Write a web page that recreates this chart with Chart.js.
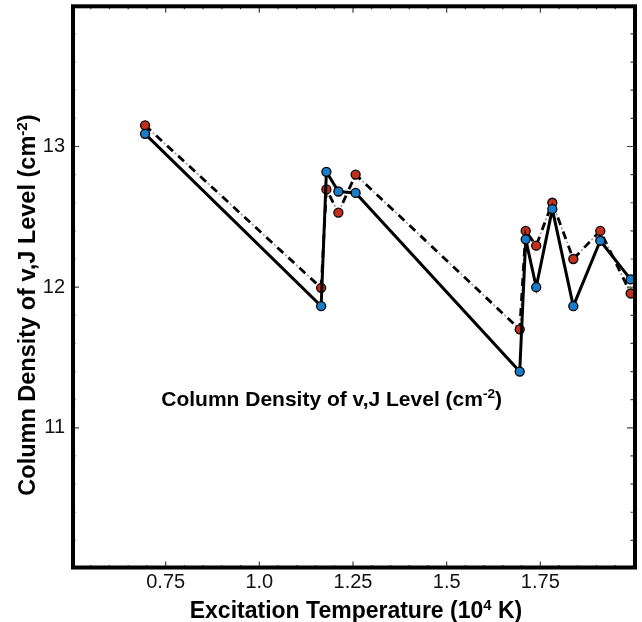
<!DOCTYPE html>
<html><head><meta charset="utf-8">
<script src="https://cdn.jsdelivr.net/npm/chart.js@4.4.0/dist/chart.umd.min.js"></script>
<style>html,body{margin:0;padding:0;background:#fff;}canvas{display:block;}</style>
</head><body>
<canvas id="c" width="642" height="622"></canvas>
<script>
// ---- data ----
const temperatures = [0.695, 1.165, 1.179, 1.211, 1.257, 1.695, 1.711, 1.739, 1.782, 1.838, 1.910, 1.991];
const blueDensity  = [13.09, 11.865, 12.82, 12.68, 12.67, 11.40, 12.34, 12.00, 12.555, 11.865, 12.33, 12.055];
const redDensity   = [13.15, 11.995, 12.695, 12.53, 12.80, 11.70, 12.40, 12.295, 12.60, 12.20, 12.40, 11.955];
const xTickValues = [0.75, 1.0, 1.25, 1.5, 1.75];
const xTickLabels = ['0.75', '1.0', '1.25', '1.5', '1.75'];
const yTickValues = [11, 12, 13];
const yTickLabels = ['11', '12', '13'];
const yTitle = [{t: 'Column Density of v,J Level (cm'}, {t: '-2', sup: true}, {t: ')'}];
const xTitle = [{t: 'Excitation Temperature (10'}, {t: '4', sup: true}, {t: ' K)'}];
const noteText = [{t: 'Column Density of v,J Level (cm'}, {t: '-2', sup: true}, {t: ')'}];

const FONT = '"Liberation Sans", Arial, Helvetica, sans-serif';

function pts(ys) { return temperatures.map((x, i) => ({x: x, y: ys[i]})); }

function drawRich(ctx, segs, size, cx, cy, rot) {
  const supScale = 0.65;
  let w = 0;
  segs.forEach(s => {
    ctx.font = 'bold ' + (s.sup ? size * supScale : size) + 'px ' + FONT;
    s.w = ctx.measureText(s.t).width;
    w += s.w;
  });
  ctx.save();
  ctx.translate(cx, cy);
  if (rot) ctx.rotate(rot);
  ctx.fillStyle = '#000';
  ctx.textBaseline = 'alphabetic';
  ctx.textAlign = 'left';
  let x = -w / 2;
  const base = 0.358 * size;
  segs.forEach(s => {
    ctx.font = 'bold ' + (s.sup ? size * supScale : size) + 'px ' + FONT;
    ctx.fillText(s.t, x, s.sup ? base - 0.36 * size : base);
    x += s.w;
  });
  ctx.restore();
}

const framePlugin = {
  id: 'frameTicks',
  afterDatasetsDraw(chart) {
    const ctx = chart.ctx;
    const a = chart.chartArea;
    const xs = chart.scales.x, ys = chart.scales.y;
    ctx.save();
    ctx.strokeStyle = '#444';
    ctx.lineWidth = 1.2;
    ctx.beginPath();
    for (let k = 0; k <= 30; k++) {
      const v = xs.min + k * 0.05;
      const px = xs.getPixelForValue(v);
      const major = xTickValues.some(t => Math.abs(t - v) < 1e-6);
      const len = major ? 7 : 3.5;
      ctx.moveTo(px, a.bottom); ctx.lineTo(px, a.bottom - len);
      ctx.moveTo(px, a.top); ctx.lineTo(px, a.top + len);
    }
    for (let k = 0; k <= 20; k++) {
      const v = ys.min + k * 0.2;
      const py = ys.getPixelForValue(v);
      const major = yTickValues.some(t => Math.abs(t - v) < 1e-6);
      const len = major ? 7 : 3.5;
      ctx.moveTo(a.left, py); ctx.lineTo(a.left + len, py);
      ctx.moveTo(a.right, py); ctx.lineTo(a.right - len, py);
    }
    ctx.stroke();
    ctx.strokeStyle = '#000';
    ctx.lineWidth = 4;
    ctx.strokeRect(a.left + 1, a.top + 0.5, a.right - a.left, a.bottom - a.top - 1.5);
    ctx.restore();
  },
  afterDraw(chart) {
    const ctx = chart.ctx;
    const a = chart.chartArea;
    const xs = chart.scales.x, ys = chart.scales.y;
    drawRich(ctx, yTitle, 23.5, 27, 305, -Math.PI / 2);
    drawRich(ctx, xTitle, 23, (a.left + a.right) / 2 + 3, 610, 0);
    drawRich(ctx, noteText, 21, xs.getPixelForValue(1.193), ys.getPixelForValue(11.21), 0);
  }
};

new Chart(document.getElementById('c'), {
  type: 'line',
  data: {
    datasets: [
      {
        label: 'solid',
        data: pts(blueDensity),
        borderColor: '#000',
        borderWidth: 3,
        pointRadius: 4.5,
        pointBackgroundColor: '#1a7bc9',
        pointBorderColor: '#000',
        pointBorderWidth: 1.3,
        order: 0,
        tension: 0
      },
      {
        label: 'dashed',
        data: pts(redDensity),
        borderColor: '#000',
        borderWidth: 2.8,
        borderDash: [8, 7],
        pointRadius: 4.5,
        pointBackgroundColor: '#c2301c',
        pointBorderColor: '#000',
        pointBorderWidth: 1.3,
        order: 1,
        tension: 0
      },
      {
        label: 'dashed-dots',
        data: pts(redDensity),
        borderColor: '#9a9a9a',
        borderWidth: 1.6,
        borderDash: [2, 13],
        borderDashOffset: -10.5,
        pointRadius: 0,
        order: 2,
        tension: 0
      }
    ]
  },
  options: {
    responsive: false,
    animation: false,
    devicePixelRatio: 1,
    layout: {padding: {left: 0, right: 8, top: 5, bottom: 0}},
    plugins: {legend: {display: false}, tooltip: {enabled: false}},
    scales: {
      x: {
        type: 'linear',
        min: 0.5, max: 2.0,
        grid: {display: false, drawTicks: false},
        border: {display: false},
        afterBuildTicks: s => { s.ticks = xTickValues.map(v => ({value: v})); },
        afterFit: s => { s.height = 53.5; s.paddingLeft = 0; s.paddingRight = 0; },
        ticks: {
          autoSkip: false,
          maxRotation: 0,
          padding: 4,
          color: '#111',
          font: {family: FONT, size: 20, lineHeight: 1},
          callback: (v, i) => xTickLabels[i]
        }
      },
      y: {
        type: 'linear',
        min: 10, max: 14,
        grid: {display: false, drawTicks: false},
        border: {display: false},
        afterBuildTicks: s => { s.ticks = yTickValues.map(v => ({value: v})); },
        afterFit: s => { s.width = 72; s.paddingTop = 0; s.paddingBottom = 0; },
        ticks: {
          autoSkip: false,
          padding: 7,
          color: '#111',
          font: {family: FONT, size: 20, lineHeight: 1},
          callback: (v, i) => yTickLabels[i]
        }
      }
    }
  },
  plugins: [framePlugin]
});
</script>
</body></html>
